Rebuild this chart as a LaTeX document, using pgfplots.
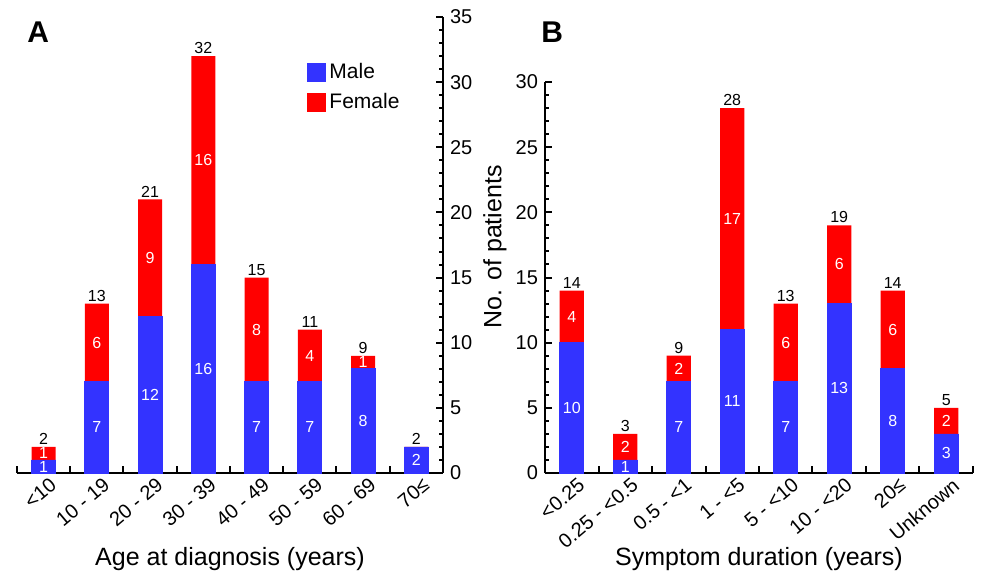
\documentclass[border=0pt]{standalone}
\usepackage{fontspec}
\setmainfont{Liberation Sans}
\usepackage{pgfplots}
\usepackage{pgfplotstable}
\pgfplotsset{compat=1.18}

\definecolor{mblue}{RGB}{51,51,255}
\definecolor{fred}{RGB}{255,0,0}

% age at diagnosis: male / female
\pgfplotstableread{
x m f
0 1 1
1 7 6
2 12 9
3 16 16
4 7 8
5 7 4
6 8 1
7 2 0
}\ageA

% symptom duration: male / female
\pgfplotstableread{
x m f
0 10 4
1 1 2
2 7 2
3 11 17
4 7 6
5 13 6
6 8 6
7 3 2
}\durB

\pgfplotsset{
  panel/.style={
    scale only axis, clip=false, anchor=south west,
    xmin=-0.5, xmax=7.5, ymin=0,
    xtick={-0.5,0.5,...,7.5}, xticklabels={},
    extra x ticks={0,...,7},
    extra x tick style={major tick length=0pt,
      tick label style={xshift=3pt, yshift=3pt, rotate=40, anchor=north east}},
    minor y tick num=4,
    tick label style={font=\fontsize{10}{12}\selectfont},
    /pgf/number format/assume math mode=true,
    label style={font=\fontsize{12.5}{15}\selectfont},
    xlabel style={at={(axis description cs:0.5,0)}, anchor=base, yshift=-46pt},
  },
  lines/.style={
    axis line style={-, line width=1pt},
    tick align=inside, tick style={black, line width=1pt},
    major tick length=3.5pt, minor tick length=2pt,
  },
  totbar/.style={ybar, bar width=0.45, bar shift=0pt, fill=fred, draw=none,
    nodes near coords, point meta=y,
    every node near coord/.append style={anchor=south, text=black,
      font=\fontsize{8}{9}\selectfont, inner sep=1pt}},
  malebar/.style={ybar, bar width=0.45, bar shift=0pt, fill=mblue,
    draw=mblue, line width=0.4pt},
  valnode/.style={draw=none, mark=none, nodes near coords, point meta=explicit symbolic,
    every node near coord/.append style={anchor=center, text=white,
      font=\fontsize{8}{9}\selectfont, inner sep=0pt}},
}

\begin{document}
\begin{tikzpicture}
\path[use as bounding box] (0pt,0pt) rectangle (492pt,-287.5pt);

\begin{axis}[panel,
  at={(8.5pt,-236.5pt)}, width=213pt, height=228pt,
  ymax=35, axis x line=bottom, axis y line=right, lines, ytick={0,5,...,35},
  extra x tick labels={<10,10 - 19,20 - 29,30 - 39,40 - 49,50 - 59,60 - 69,70≤},
  xlabel={Age at diagnosis (years)},
  legend style={at={(0.665,0.918)}, anchor=north west, draw=none, fill=none,
    font=\fontsize{10.5}{12}\selectfont, row sep=2pt},
  legend cell align=left,
]
\addlegendimage{legend image code/.code={\fill[mblue] (0pt,-4.5pt) rectangle (9pt,4.5pt);}}
\addlegendentry{Male}
\addlegendimage{legend image code/.code={\fill[fred] (0pt,-4.5pt) rectangle (9pt,4.5pt);}}
\addlegendentry{Female}
\addplot[totbar] table[x=x, y expr=\thisrow{m}+\thisrow{f}] {\ageA};
\addplot[malebar] table[x=x, y=m] {\ageA};
\addplot[valnode] table[x=x, y expr=\thisrow{m}/2, meta=m] {\ageA};
\addplot[valnode, skip coords between index={7}{8}]
  table[x=x, y expr=\thisrow{m}+\thisrow{f}/2, meta=f] {\ageA};
\end{axis}

\begin{axis}[panel,
  at={(272.5pt,-236.5pt)}, width=214pt, height=195.5pt,
  ymax=30, axis x line=bottom, axis y line=left, lines, ytick={0,5,...,30},
  extra x tick labels={<0.25,0.25 - <0.5,0.5 - <1,1 - <5,5 - <10,10 - <20,20≤,Unknown},
  xlabel={Symptom duration (years)},
  ylabel={No. of patients},
  ylabel style={at={(axis description cs:-0.089,0.578)}, anchor=south, rotate=0, inner sep=0pt},
]
\addplot[totbar] table[x=x, y expr=\thisrow{m}+\thisrow{f}] {\durB};
\addplot[malebar] table[x=x, y=m] {\durB};
\addplot[valnode] table[x=x, y expr=\thisrow{m}/2, meta=m] {\durB};
\addplot[valnode] table[x=x, y expr=\thisrow{m}+\thisrow{f}/2, meta=f] {\durB};
\end{axis}

\node[anchor=base west, font=\fontsize{15}{18}\selectfont\bfseries, inner sep=0pt] at (13.5pt,-21pt) {A};
\node[anchor=base west, font=\fontsize{15}{18}\selectfont\bfseries, inner sep=0pt] at (270.5pt,-21pt) {B};
\end{tikzpicture}
\end{document}
